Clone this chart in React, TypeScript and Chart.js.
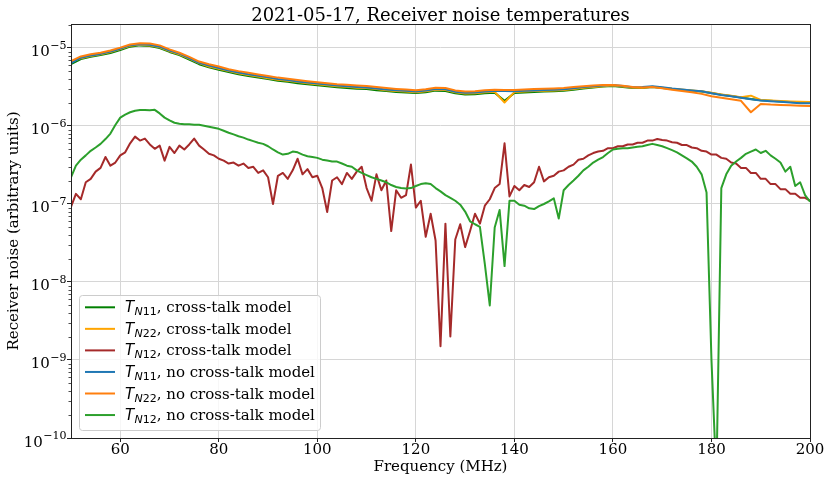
import { useEffect, useRef } from 'react';
import { Chart, registerables } from 'chart.js';

Chart.register(...registerables);

// ---- data ----

const titleText = '2021-05-17, Receiver noise temperatures';
const xTitle = 'Frequency (MHz)';
const yTitle = 'Receiver noise (arbitrary units)';

const xTicks = [60, 80, 100, 120, 140, 160, 180, 200];
const yMajorTicks = [1e-10, 1e-9, 1e-8, 1e-7, 1e-6, 1e-5];
const yTickExponents = ['\u221210', '\u22129', '\u22128', '\u22127', '\u22126', '\u22125'];
const yMinorMultipliers = [2, 3, 4, 5, 6, 7, 8, 9];
const Y_MIN = 1e-10;
const Y_MAX = 2.03e-5;

// smooth curves, sampled every 2 MHz
const topFreq = [
  50, 52, 54, 56, 58, 60, 62, 64, 66, 68,
  70, 72, 74, 76, 78, 80, 82, 84, 86, 88,
  90, 92, 94, 96, 98, 100, 102, 104, 106, 108,
  110, 112, 114, 116, 118, 120, 122, 124, 126, 128,
  130, 132, 134, 136, 138, 140, 142, 144, 146, 148,
  150, 152, 154, 156, 158, 160, 162, 164, 166, 168,
  170, 172, 174, 176, 178, 180, 182, 184, 186, 188,
  190, 192, 194, 196, 198, 200,
];

const tn11CrossTalk = [
  6.2e-6, 7.2e-6, 7.7e-6, 8.1e-6, 8.6e-6, 9.4e-6, 1.04e-5, 1.08e-5, 1.06e-5, 1.0e-5,
  8.9e-6, 8.1e-6, 7.1e-6, 6.2e-6, 5.65e-6, 5.25e-6, 4.9e-6, 4.6e-6, 4.37e-6, 4.18e-6,
  3.99e-6, 3.8e-6, 3.69e-6, 3.54e-6, 3.42e-6, 3.33e-6, 3.23e-6, 3.14e-6, 3.08e-6, 3.01e-6,
  2.97e-6, 2.88e-6, 2.8e-6, 2.73e-6, 2.68e-6, 2.64e-6, 2.71e-6, 2.84e-6, 2.81e-6, 2.62e-6,
  2.54e-6, 2.56e-6, 2.63e-6, 2.67e-6, 2.1e-6, 2.65e-6, 2.69e-6, 2.73e-6, 2.77e-6, 2.79e-6,
  2.83e-6, 2.92e-6, 3.03e-6, 3.12e-6, 3.2e-6, 3.26e-6, 3.17e-6, 3.08e-6, 3.08e-6, 3.15e-6,
  3.07e-6, 2.98e-6, 2.9e-6, 2.83e-6, 2.76e-6, 2.64e-6, 2.52e-6, 2.42e-6, 2.32e-6, 2.22e-6,
  2.14e-6, 2.1e-6, 2.06e-6, 2.03e-6, 2.0e-6, 1.99e-6,
];

const tn22CrossTalk = [
  6.6e-6, 7.4e-6, 7.9e-6, 8.3e-6, 8.9e-6, 9.7e-6, 1.07e-5, 1.1e-5, 1.08e-5, 1.02e-5,
  9.1e-6, 8.3e-6, 7.3e-6, 6.4e-6, 5.8e-6, 5.4e-6, 5.05e-6, 4.75e-6, 4.5e-6, 4.3e-6,
  4.1e-6, 3.92e-6, 3.8e-6, 3.65e-6, 3.52e-6, 3.43e-6, 3.33e-6, 3.24e-6, 3.18e-6, 3.1e-6,
  3.06e-6, 2.97e-6, 2.88e-6, 2.81e-6, 2.76e-6, 2.71e-6, 2.79e-6, 2.92e-6, 2.89e-6, 2.7e-6,
  2.61e-6, 2.63e-6, 2.7e-6, 2.74e-6, 2.0e-6, 2.72e-6, 2.76e-6, 2.8e-6, 2.84e-6, 2.86e-6,
  2.9e-6, 2.99e-6, 3.09e-6, 3.16e-6, 3.24e-6, 3.3e-6, 3.2e-6, 3.1e-6, 3.1e-6, 3.18e-6,
  3.1e-6, 3.0e-6, 2.93e-6, 2.86e-6, 2.79e-6, 2.66e-6, 2.54e-6, 2.44e-6, 2.34e-6, 2.45e-6,
  2.16e-6, 2.12e-6, 2.09e-6, 2.06e-6, 2.04e-6, 2.03e-6,
];

const tn11NoCrossTalk = [
  6.4e-6, 7.5e-6, 8.0e-6, 8.4e-6, 9.0e-6, 9.8e-6, 1.08e-5, 1.12e-5, 1.1e-5, 1.04e-5,
  9.3e-6, 8.5e-6, 7.4e-6, 6.45e-6, 5.95e-6, 5.55e-6, 5.15e-6, 4.85e-6, 4.6e-6, 4.4e-6,
  4.2e-6, 4.0e-6, 3.88e-6, 3.72e-6, 3.6e-6, 3.5e-6, 3.4e-6, 3.3e-6, 3.24e-6, 3.17e-6,
  3.12e-6, 3.03e-6, 2.94e-6, 2.87e-6, 2.82e-6, 2.77e-6, 2.85e-6, 2.98e-6, 2.95e-6, 2.75e-6,
  2.66e-6, 2.68e-6, 2.76e-6, 2.8e-6, 2.8e-6, 2.78e-6, 2.82e-6, 2.86e-6, 2.9e-6, 2.92e-6,
  2.96e-6, 3.05e-6, 3.15e-6, 3.22e-6, 3.3e-6, 3.36e-6, 3.25e-6, 3.14e-6, 3.15e-6, 3.24e-6,
  3.14e-6, 3.02e-6, 2.94e-6, 2.86e-6, 2.78e-6, 2.63e-6, 2.5e-6, 2.4e-6, 2.3e-6, 2.2e-6,
  2.12e-6, 2.08e-6, 2.04e-6, 2.0e-6, 1.96e-6, 1.95e-6,
];

const tn22NoCrossTalk = [
  6.8e-6, 7.8e-6, 8.3e-6, 8.7e-6, 9.3e-6, 1.01e-5, 1.11e-5, 1.15e-5, 1.14e-5, 1.08e-5,
  9.6e-6, 8.7e-6, 7.7e-6, 6.7e-6, 6.2e-6, 5.8e-6, 5.35e-6, 5.05e-6, 4.8e-6, 4.58e-6,
  4.38e-6, 4.17e-6, 4.04e-6, 3.88e-6, 3.75e-6, 3.64e-6, 3.54e-6, 3.44e-6, 3.37e-6, 3.3e-6,
  3.25e-6, 3.15e-6, 3.06e-6, 2.99e-6, 2.94e-6, 2.88e-6, 2.96e-6, 3.1e-6, 3.07e-6, 2.86e-6,
  2.77e-6, 2.79e-6, 2.87e-6, 2.91e-6, 2.9e-6, 2.89e-6, 2.93e-6, 2.97e-6, 3.0e-6, 3.03e-6,
  3.07e-6, 3.15e-6, 3.24e-6, 3.3e-6, 3.35e-6, 3.36e-6, 3.28e-6, 3.16e-6, 3.12e-6, 3.15e-6,
  3.05e-6, 2.92e-6, 2.8e-6, 2.7e-6, 2.58e-6, 2.4e-6, 2.3e-6, 2.2e-6, 2.1e-6, 1.5e-6,
  1.92e-6, 1.88e-6, 1.86e-6, 1.84e-6, 1.82e-6, 1.8e-6,
];

// noisy T_N12 curves, sampled every 1 MHz
const fineFreq = [
  50, 51, 52, 53, 54, 55, 56, 57, 58, 59,
  60, 61, 62, 63, 64, 65, 66, 67, 68, 69,
  70, 71, 72, 73, 74, 75, 76, 77, 78, 79,
  80, 81, 82, 83, 84, 85, 86, 87, 88, 89,
  90, 91, 92, 93, 94, 95, 96, 97, 98, 99,
  100, 101, 102, 103, 104, 105, 106, 107, 108, 109,
  110, 111, 112, 113, 114, 115, 116, 117, 118, 119,
  120, 121, 122, 123, 124, 125, 126, 127, 128, 129,
  130, 131, 132, 133, 134, 135, 136, 137, 138, 139,
  140, 141, 142, 143, 144, 145, 146, 147, 148, 149,
  150, 151, 152, 153, 154, 155, 156, 157, 158, 159,
  160, 161, 162, 163, 164, 165, 166, 167, 168, 169,
  170, 171, 172, 173, 174, 175, 176, 177, 178, 179,
  180, 181, 182, 183, 184, 185, 186, 187, 188, 189,
  190, 191, 192, 193, 194, 195, 196, 197, 198, 199,
  200,
];

const tn12CrossTalk = [
  9.2e-8, 1.35e-7, 1.15e-7, 1.9e-7, 2.1e-7, 2.6e-7, 2.9e-7, 4.0e-7, 3.1e-7, 3.4e-7,
  4.2e-7, 4.6e-7, 6.0e-7, 7.3e-7, 6.5e-7, 6.9e-7, 5.8e-7, 5.1e-7, 5.6e-7, 3.6e-7,
  5.4e-7, 4.5e-7, 5.6e-7, 5.0e-7, 5.8e-7, 6.9e-7, 5.6e-7, 5.0e-7, 4.4e-7, 4.2e-7,
  3.8e-7, 3.6e-7, 3.3e-7, 3.4e-7, 3.1e-7, 3.3e-7, 2.9e-7, 3.0e-7, 2.5e-7, 2.7e-7,
  2.2e-7, 1.0e-7, 2.3e-7, 2.5e-7, 2.1e-7, 2.7e-7, 3.8e-7, 2.4e-7, 2.8e-7, 2.2e-7,
  2.3e-7, 1.6e-7, 7.9e-8, 2.0e-7, 2.2e-7, 1.8e-7, 2.5e-7, 2.1e-7, 2.6e-7, 3.0e-7,
  1.6e-7, 1.1e-7, 2.4e-7, 1.5e-7, 2.0e-7, 4.5e-8, 1.5e-7, 1.2e-7, 1.3e-7, 3.2e-7,
  9.0e-8, 1.1e-7, 3.8e-8, 7.5e-8, 3.4e-8, 1.5e-9, 5.6e-8, 2.0e-9, 3.5e-8, 5.5e-8,
  2.8e-8, 4.5e-8, 7.5e-8, 5.6e-8, 9.5e-8, 1.15e-7, 1.6e-7, 1.8e-7, 6.0e-7, 1.25e-7,
  1.7e-7, 1.5e-7, 1.75e-7, 1.65e-7, 1.9e-7, 3.0e-7, 1.95e-7, 2.2e-7, 2.3e-7, 2.6e-7,
  2.7e-7, 3.0e-7, 3.2e-7, 3.7e-7, 3.8e-7, 4.2e-7, 4.5e-7, 4.7e-7, 4.8e-7, 5.2e-7,
  5.2e-7, 5.5e-7, 5.5e-7, 5.8e-7, 5.8e-7, 6.1e-7, 6.1e-7, 6.5e-7, 6.5e-7, 6.8e-7,
  6.6e-7, 6.5e-7, 6.2e-7, 6.1e-7, 5.7e-7, 5.7e-7, 5.3e-7, 5.2e-7, 4.8e-7, 4.7e-7,
  4.3e-7, 4.3e-7, 3.9e-7, 3.8e-7, 3.4e-7, 3.3e-7, 2.9e-7, 2.9e-7, 2.5e-7, 2.5e-7,
  2.1e-7, 2.1e-7, 1.8e-7, 1.8e-7, 1.55e-7, 1.55e-7, 1.35e-7, 1.35e-7, 1.2e-7, 1.2e-7,
  1.1e-7,
];

const tn12NoCrossTalk = [
  2.2e-7, 3.1e-7, 3.7e-7, 4.2e-7, 4.8e-7, 5.3e-7, 5.9e-7, 6.8e-7, 8.0e-7, 1.03e-6,
  1.28e-6, 1.4e-6, 1.5e-6, 1.57e-6, 1.6e-6, 1.6e-6, 1.59e-6, 1.61e-6, 1.45e-6, 1.28e-6,
  1.18e-6, 1.1e-6, 1.07e-6, 1.05e-6, 1.05e-6, 1.04e-6, 1.04e-6, 1.01e-6, 9.8e-7, 9.5e-7,
  9.2e-7, 8.7e-7, 8.2e-7, 7.8e-7, 7.4e-7, 7.1e-7, 6.7e-7, 6.4e-7, 6.1e-7, 5.9e-7,
  5.5e-7, 5.0e-7, 4.6e-7, 4.3e-7, 4.4e-7, 4.7e-7, 4.6e-7, 4.3e-7, 4.1e-7, 4.0e-7,
  3.9e-7, 3.7e-7, 3.6e-7, 3.5e-7, 3.5e-7, 3.3e-7, 3.1e-7, 3.0e-7, 2.7e-7, 2.5e-7,
  2.35e-7, 2.2e-7, 2.1e-7, 2.0e-7, 1.9e-7, 1.75e-7, 1.65e-7, 1.6e-7, 1.58e-7, 1.6e-7,
  1.7e-7, 1.8e-7, 1.85e-7, 1.8e-7, 1.6e-7, 1.45e-7, 1.3e-7, 1.2e-7, 1.1e-7, 9.8e-8,
  8.0e-8, 6.0e-8, 5.5e-8, 5.1e-8, 1.7e-8, 5.0e-9, 5.0e-8, 8.4e-8, 1.6e-8, 1.1e-7,
  1.1e-7, 9.8e-8, 9.5e-8, 8.8e-8, 8.6e-8, 9.4e-8, 1.0e-7, 1.08e-7, 1.18e-7, 6.5e-8,
  1.5e-7, 1.75e-7, 2.0e-7, 2.3e-7, 2.7e-7, 3.0e-7, 3.4e-7, 3.7e-7, 4.0e-7, 4.5e-7,
  5.0e-7, 5.1e-7, 5.2e-7, 5.2e-7, 5.3e-7, 5.4e-7, 5.5e-7, 5.7e-7, 5.9e-7, 5.7e-7,
  5.5e-7, 5.2e-7, 4.9e-7, 4.6e-7, 4.2e-7, 3.85e-7, 3.5e-7, 3.0e-7, 2.4e-7, 1.4e-7,
  1.0e-9, 3.0e-11, 1.6e-7, 2.4e-7, 3.1e-7, 3.5e-7, 3.9e-7, 4.4e-7, 4.7e-7, 5.0e-7,
  4.5e-7, 4.8e-7, 4.2e-7, 3.8e-7, 3.4e-7, 2.6e-7, 3.0e-7, 1.7e-7, 1.9e-7, 1.3e-7,
  1.07e-7,
];

// legend order = plotting order in the original
const series = [
  { sub: 'N11', text: ', cross-talk model', color: '#008000', freq: topFreq, values: tn11CrossTalk },
  { sub: 'N22', text: ', cross-talk model', color: '#ffa500', freq: topFreq, values: tn22CrossTalk },
  { sub: 'N12', text: ', cross-talk model', color: '#a52a2a', freq: fineFreq, values: tn12CrossTalk },
  { sub: 'N11', text: ', no cross-talk model', color: '#1f77b4', freq: topFreq, values: tn11NoCrossTalk },
  { sub: 'N22', text: ', no cross-talk model', color: '#ff7f0e', freq: topFreq, values: tn22NoCrossTalk },
  { sub: 'N12', text: ', no cross-talk model', color: '#2ca02c', freq: fineFreq, values: tn12NoCrossTalk },
];

const SERIF = '"DejaVu Serif"';
const SANS = '"DejaVu Sans"';
const GRID = '#d6d6d6';
const FS = 15;

const yTickValues: number[] = [];
yMajorTicks.forEach((m) => {
  yTickValues.push(m);
  yMinorMultipliers.forEach((k) => {
    if (k * m <= Y_MAX) yTickValues.push(k * m);
  });
});
const isMajor = (v?: number) =>
  v !== undefined && yMajorTicks.some((m) => Math.abs(v / m - 1) < 1e-6);

const decorPlugin = {
  id: 'decor',
  afterDraw(chart: any) {
    const { ctx, chartArea: a } = chart;
    const yScale = chart.scales.y;
    ctx.save();

    // frame
    ctx.strokeStyle = '#222';
    ctx.lineWidth = 1;
    ctx.strokeRect(a.left + 0.5, a.top + 0.5, a.right - a.left, a.bottom - a.top);

    // minor ticks on the log axis
    ctx.beginPath();
    yTickValues.forEach((v) => {
      if (isMajor(v)) return;
      const py = Math.round(yScale.getPixelForValue(v)) + 0.5;
      ctx.moveTo(a.left - 2.5, py);
      ctx.lineTo(a.left, py);
    });
    ctx.lineWidth = 0.8;
    ctx.stroke();

    // y tick labels 10^n
    ctx.fillStyle = '#000';
    ctx.textBaseline = 'alphabetic';
    ctx.textAlign = 'left';
    yMajorTicks.forEach((m, i) => {
      const py = yScale.getPixelForValue(m);
      const exp = yTickExponents[i];
      ctx.font = `11px ${SERIF}`;
      const ew = ctx.measureText(exp).width;
      ctx.font = `${FS}px ${SERIF}`;
      const bw = ctx.measureText('10').width;
      const right = a.left - 4.5;
      ctx.fillText('10', right - ew - bw - 0.5, py + 8.5);
      ctx.font = `11px ${SERIF}`;
      ctx.fillText(exp, right - ew, py + 1);
    });

    // legend
    const bx = 79.5, by = 295.5, bw = 241, bh = 135;
    ctx.beginPath();
    ctx.roundRect(bx, by, bw, bh, 3);
    ctx.fillStyle = 'rgba(255,255,255,0.8)';
    ctx.fill();
    ctx.strokeStyle = '#cccccc';
    ctx.lineWidth = 1;
    ctx.stroke();
    series.forEach((s, i) => {
      const cy = 307.3 + i * 21.55;
      ctx.beginPath();
      ctx.moveTo(85, cy);
      ctx.lineTo(115, cy);
      ctx.strokeStyle = s.color;
      ctx.lineWidth = 2;
      ctx.stroke();
      let x = 125;
      const base = cy + 5;
      ctx.fillStyle = '#000';
      ctx.font = `italic ${FS}px ${SANS}`;
      ctx.fillText('T', x, base);
      x += ctx.measureText('T').width + 0.3;
      ctx.font = `italic 11px ${SANS}`;
      ctx.fillText(s.sub[0], x, base + 3);
      x += ctx.measureText(s.sub[0]).width;
      ctx.font = `11px ${SANS}`;
      ctx.fillText(s.sub.slice(1), x, base + 3);
      x += ctx.measureText(s.sub.slice(1)).width;
      ctx.font = `${FS}px ${SERIF}`;
      ctx.fillText(s.text, x, base);
    });

    // title
    ctx.font = `18px ${SERIF}`;
    ctx.textAlign = 'center';
    ctx.fillStyle = '#000';
    ctx.fillText(titleText, (a.left + a.right) / 2, 20.5);
    ctx.restore();
  },
};

export default function App() {
  const canvasRef = useRef<HTMLCanvasElement>(null);

  useEffect(() => {
    document.body.style.margin = '0';
    if (!canvasRef.current) return;
    const chart = new Chart(canvasRef.current, {
      type: 'line',
      data: {
        datasets: series.map((s, i) => ({
          label: s.sub + s.text,
          data: s.freq.map((f, j) => ({ x: f, y: s.values[j] })),
          borderColor: s.color,
          backgroundColor: s.color,
          borderWidth: 2,
          borderJoinStyle: 'round' as const,
          pointRadius: 0,
          tension: 0,
          order: series.length - i,
        })),
      },
      options: {
        animation: false,
        responsive: false,
        events: [],
        layout: { padding: { left: 0, right: 21, top: 24, bottom: 0 } },
        plugins: {
          legend: { display: false },
          title: { display: false },
          tooltip: { enabled: false },
        },
        scales: {
          x: {
            type: 'linear',
            min: 50,
            max: 200,
            afterBuildTicks: (s: any) => {
              s.ticks = xTicks.map((v) => ({ value: v }));
            },
            afterFit: (s: any) => {
              s.height = 44;
            },
            ticks: {
              color: '#000',
              font: { family: SERIF, size: FS },
              padding: -1,
              maxRotation: 0,
              autoSkip: false,
            },
            grid: { color: GRID, lineWidth: 1, tickLength: 4, tickColor: '#222' },
            border: { display: false },
            title: {
              display: true,
              text: xTitle,
              color: '#000',
              font: { family: SERIF, size: FS },
              padding: { top: 6, bottom: 6 },
            },
          },
          y: {
            type: 'logarithmic',
            min: Y_MIN,
            max: Y_MAX,
            afterBuildTicks: (s: any) => {
              s.ticks = yTickValues.map((v) => ({ value: v }));
            },
            afterFit: (s: any) => {
              s.width = 71;
            },
            ticks: { display: false, autoSkip: false },
            grid: {
              color: (c: any) => (isMajor(c.tick?.value) ? GRID : 'rgba(0,0,0,0)'),
              tickColor: (c: any) => (isMajor(c.tick?.value) ? '#222' : 'rgba(0,0,0,0)'),
              lineWidth: 1,
              tickLength: 4,
            },
            border: { display: false },
            title: {
              display: true,
              text: yTitle,
              color: '#000',
              font: { family: SERIF, size: FS },
              padding: { top: 5, bottom: 4 },
            },
          },
        },
      },
      plugins: [decorPlugin],
    });
    return () => chart.destroy();
  }, []);

  return (
    <div style={{ width: 831, height: 482 }}>
      <canvas ref={canvasRef} width={831} height={482} />
    </div>
  );
}
